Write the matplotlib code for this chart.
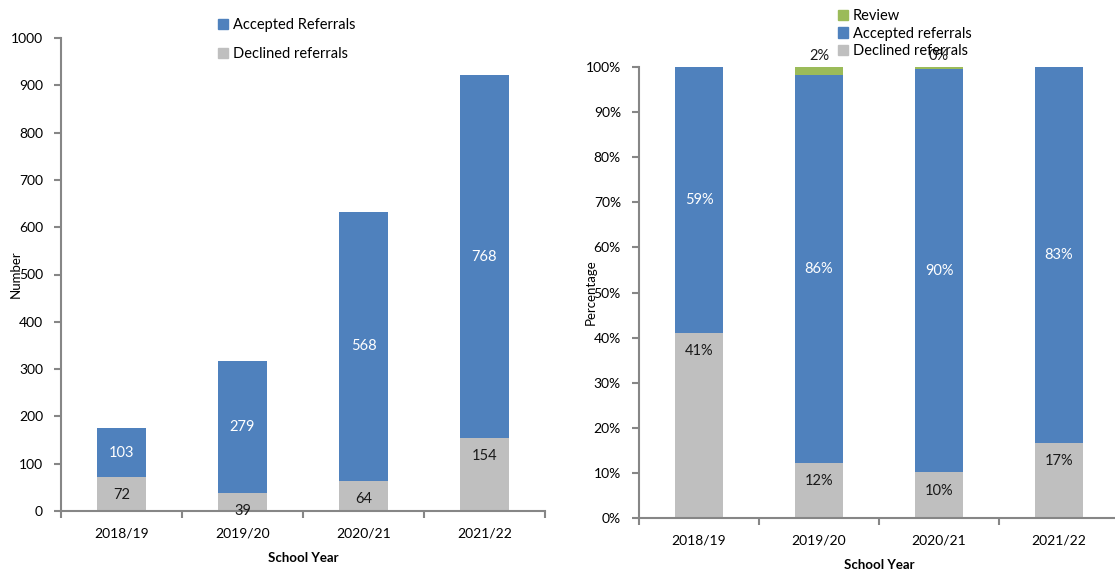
import matplotlib
matplotlib.use("Agg")
import matplotlib.pyplot as plt
from matplotlib.patches import Patch
import numpy as np

years = ["2018/19", "2019/20", "2020/21", "2021/22"]

# Referral counts per school year
declined = [72, 39, 64, 154]
accepted = [103, 279, 568, 768]

# Share of referrals per school year (%)
declined_pct = [41.0, 12.2, 10.1, 16.7]
accepted_pct = [59.0, 86.1, 89.55, 83.3]
review_pct = [0.0, 1.7, 0.35, 0.0]

BLUE = "#4F81BD"
GREY = "#BFBFBF"
GREEN = "#9BBB59"
SPINE = "#868686"

plt.rcParams["font.family"] = ["Lato", "DejaVu Sans"]

W, H = 1115, 572
fig = plt.figure(figsize=(W / 100, H / 100), dpi=100)


def px_axes(x0, x1, ytop, ybot):
    return fig.add_axes([x0 / W, 1 - ybot / H, (x1 - x0) / W, (ybot - ytop) / H])


def style_axes(ax, n):
    for side in ("top", "right"):
        ax.spines[side].set_visible(False)
    for side in ("left", "bottom"):
        ax.spines[side].set_color(SPINE)
        ax.spines[side].set_linewidth(1.5)
    ax.set_xlim(-0.5, n - 0.5)
    ax.set_xticks(range(n))
    ax.set_xticklabels(years)
    ax.set_xticks(np.arange(-0.5, n, 1.0), minor=True)
    ax.tick_params(axis="x", which="major", length=0, pad=12, labelsize=10)
    ax.tick_params(axis="x", which="minor", length=5, width=1.5, color=SPINE, direction="out")
    ax.tick_params(axis="y", length=5, width=1.5, color=SPINE, direction="out", labelsize=10, pad=8)
    ax.set_xlabel("School Year", fontsize=9.5, fontweight="bold", labelpad=9)


x = np.arange(len(years))
bw = 0.4

# Left: counts
ax1 = px_axes(61, 545, 38, 511)
ax1.bar(x, declined, bw, color=GREY, zorder=2)
ax1.bar(x, accepted, bw, bottom=declined, color=BLUE, zorder=2)
ax1.set_ylim(0, 1000)
ax1.set_yticks(range(0, 1001, 100))
style_axes(ax1, len(years))
ax1.set_ylabel("Number", fontsize=9.5, labelpad=-8)

for i in range(len(years)):
    ax1.annotate(str(declined[i]), (x[i], declined[i]), xytext=(0, -13),
                 textcoords="offset points", ha="center", va="center",
                 fontsize=10.5, color="#1a1a1a", zorder=4)
    ax1.text(x[i], declined[i] + accepted[i] / 2, str(accepted[i]), ha="center",
             va="center", fontsize=10.5, color="white", zorder=4)

ax1.legend(handles=[Patch(color=BLUE, label="Accepted Referrals"),
                    Patch(color=GREY, label="Declined referrals")],
           loc="upper left", bbox_to_anchor=(218 / W, 1 - 18 / H),
           bbox_transform=fig.transFigure, frameon=False, fontsize=10.5,
           handlelength=0.7, handleheight=0.7, handletextpad=0.3,
           labelspacing=1.05, borderpad=0, borderaxespad=0)

# Right: percentages
ax2 = px_axes(639, 1119, 67, 518)
dec_tot = np.array(declined_pct)
acc_tot = dec_tot + np.array(accepted_pct)
ax2.bar(x, declined_pct, bw, color=GREY, zorder=2)
ax2.bar(x, accepted_pct, bw, bottom=dec_tot, color=BLUE, zorder=2)
ax2.bar(x, review_pct, bw, bottom=acc_tot, color=GREEN, zorder=2)
ax2.set_ylim(0, 100)
ax2.set_yticks(range(0, 101, 10))
ax2.set_yticklabels([f"{v}%" for v in range(0, 101, 10)])
style_axes(ax2, len(years))
ax2.set_ylabel("Percentage", fontsize=9.5, labelpad=-8)

for i in range(len(years)):
    ax2.annotate(f"{declined_pct[i]:.0f}%", (x[i], declined_pct[i]), xytext=(0, -13),
                 textcoords="offset points", ha="center", va="center",
                 fontsize=10.5, color="#1a1a1a", zorder=4)
    ax2.text(x[i], dec_tot[i] + accepted_pct[i] / 2, f"{accepted_pct[i]:.0f}%",
             ha="center", va="center", fontsize=10.5, color="white", zorder=4)
    if review_pct[i] > 0:
        ax2.annotate(f"{review_pct[i]:.0f}%", (x[i], acc_tot[i] + review_pct[i]),
                     xytext=(0, 3), textcoords="offset points", ha="center",
                     va="bottom", fontsize=10.5, color="#1a1a1a", zorder=4)

leg2 = ax2.legend(handles=[Patch(color=GREEN, label="Review"),
                           Patch(color=BLUE, label="Accepted referrals"),
                           Patch(color=GREY, label="Declined referrals")],
                  loc="upper left", bbox_to_anchor=(838 / W, 1 - 9 / H),
                  bbox_transform=fig.transFigure, frameon=False, fontsize=10.5,
                  handlelength=0.7, handleheight=0.7, handletextpad=0.3,
                  labelspacing=0.25, borderpad=0, borderaxespad=0)
leg2.set_zorder(10)

fig.savefig("out.png", dpi=100)
